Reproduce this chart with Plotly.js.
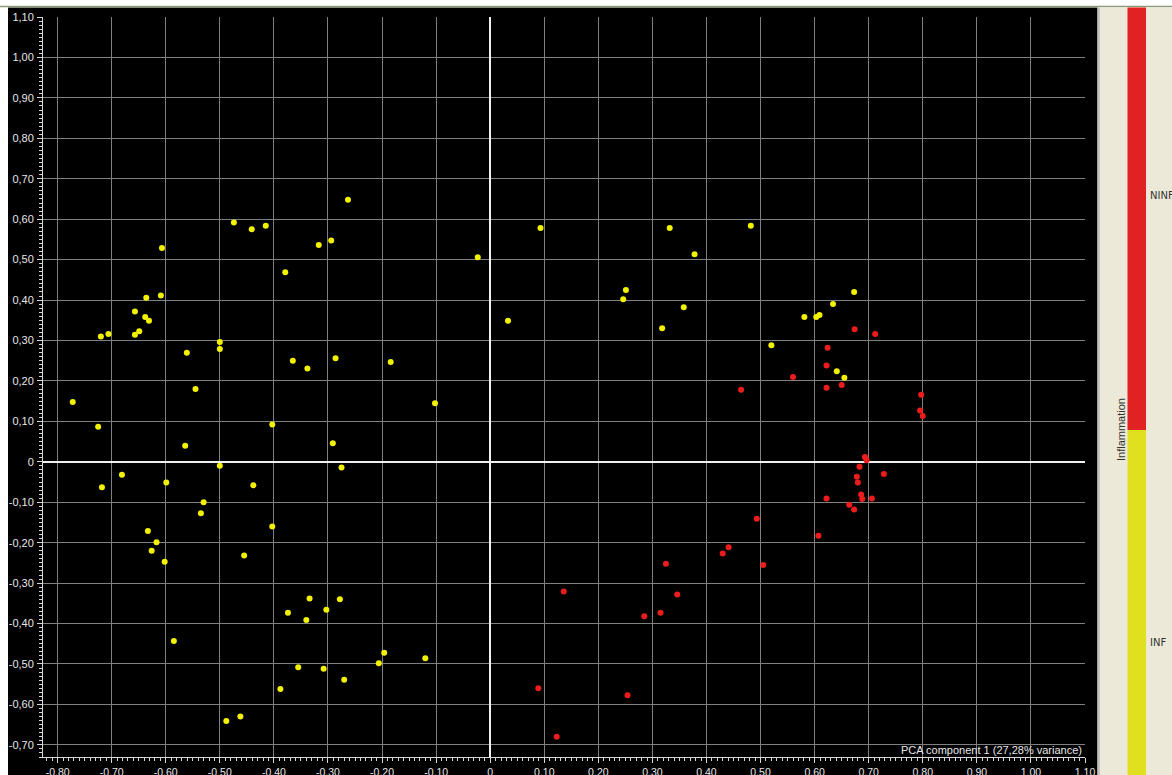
<!DOCTYPE html>
<html>
<head>
<meta charset="utf-8">
<script src="https://cdn.plot.ly/plotly-3.0.1.min.js"></script>
<style>html,body{margin:0;padding:0;background:#fff;}#chart{width:1172px;height:775px;}</style>
</head>
<body>
<div id="chart"></div>
<script>
// INF samples (yellow)
const infX = [-0.263,-0.474,-0.441,-0.415,-0.317,-0.294,-0.607,-0.023,-0.379,-0.636,-0.609,-0.657,-0.638,-0.631,-0.649,-0.657,-0.706,-0.720,-0.500,-0.500,-0.561,-0.365,-0.338,-0.286,-0.184,-0.545,-0.772,-0.102,-0.725,-0.403,-0.564,-0.291,-0.500,-0.275,-0.681,-0.718,-0.599,-0.438,
  -0.530,-0.535,-0.403,-0.633,-0.617,-0.626,-0.602,-0.455,-0.334,-0.278,-0.374,-0.303,-0.340,-0.585,-0.196,-0.206,-0.120,-0.355,-0.308,-0.270,-0.388,-0.462,-0.488,
  0.093,0.332,0.482,0.378,0.251,0.246,0.033,0.358,0.318,0.673,0.634,0.581,0.603,0.609,0.520,0.641,0.655];
const infY = [0.648,0.592,0.575,0.584,0.536,0.547,0.529,0.506,0.469,0.406,0.411,0.372,0.358,0.349,0.323,0.314,0.316,0.310,0.296,0.279,0.270,0.250,0.231,0.256,0.247,0.180,0.148,0.145,0.087,0.092,0.040,0.046,-0.010,-0.014,-0.032,-0.063,-0.051,-0.058,
  -0.100,-0.127,-0.160,-0.171,-0.199,-0.220,-0.247,-0.232,-0.338,-0.340,-0.373,-0.366,-0.391,-0.443,-0.472,-0.498,-0.486,-0.508,-0.512,-0.539,-0.562,-0.630,-0.641,
  0.578,0.578,0.584,0.513,0.425,0.402,0.349,0.382,0.330,0.420,0.390,0.358,0.358,0.363,0.288,0.224,0.208];
// NINF samples (red)
const ninfX = [0.674,0.712,0.624,0.622,0.560,0.622,0.650,0.464,0.797,0.795,0.800,
  0.693,0.696,0.683,0.728,0.678,0.680,0.686,0.688,0.706,0.622,0.664,0.673,0.493,0.607,0.441,0.430,0.325,0.505,0.136,0.346,0.315,0.285,0.089,0.254,0.123];
const ninfY = [0.328,0.316,0.282,0.238,0.210,0.183,0.190,0.178,0.166,0.127,0.113,
  0.012,0.004,-0.012,-0.030,-0.037,-0.051,-0.081,-0.092,-0.091,-0.091,-0.106,-0.118,-0.141,-0.183,-0.211,-0.227,-0.252,-0.255,-0.321,-0.328,-0.373,-0.382,-0.560,-0.577,-0.680];

const xTickVals = [-0.8,-0.7,-0.6,-0.5,-0.4,-0.3,-0.2,-0.1,0,0.1,0.2,0.3,0.4,0.5,0.6,0.7,0.8,0.9,1.0,1.1];
const xTickText = ['-0,80','-0,70','-0,60','-0,50','-0,40','-0,30','-0,20','-0,10','0','0,10','0,20','0,30','0,40','0,50','0,60','0,70','0,80','0,90','1,00','1,10'];
const yTickVals = [-0.7,-0.6,-0.5,-0.4,-0.3,-0.2,-0.1,0,0.1,0.2,0.3,0.4,0.5,0.6,0.7,0.8,0.9,1.0,1.1];
const yTickText = ['-0,70','-0,60','-0,50','-0,40','-0,30','-0,20','-0,10','0','0,10','0,20','0,30','0,40','0,50','0,60','0,70','0,80','0,90','1,00','1,10'];
const groupNames = ['INF','NINF'];
const legendTitle = 'Inflammation';
const xTitle = 'PCA component 1 (27,28% variance)';

const W = 1172, H = 775, L = 43, R = 87, T = 17, B = 18;
const pw = W - L - R, ph = H - T - B;
const px = v => (v - L) / pw;          // pixel x -> paper
const py = v => (H - B - v) / ph;      // pixel y -> paper

const traces = [
  {x: infX, y: infY, type: 'scatter', mode: 'markers', name: groupNames[0],
   marker: {color: '#f2f200', size: 6, line: {width: 0}}},
  {x: ninfX, y: ninfY, type: 'scatter', mode: 'markers', name: groupNames[1],
   marker: {color: '#ee1c1c', size: 6, line: {width: 0}}}
];

const axisCommon = {
  showgrid: true, gridcolor: '#808080', gridwidth: 1,
  zeroline: true, zerolinecolor: '#f0f0f0', zerolinewidth: 1.5,
  showline: true, linecolor: '#d8d8d8', linewidth: 1,
  ticks: 'outside', ticklen: 5, tickcolor: '#d8d8d8', tickwidth: 1,
  tickmode: 'array',
  tickfont: {family: 'Liberation Sans, Arial, sans-serif', size: 11, color: '#e6e6e6'},
  minor: {dtick: 0.01, ticklen: 3, tickcolor: '#d8d8d8', showgrid: false, ticks: 'outside'},
  fixedrange: true
};

const layout = {
  width: W, height: H,
  margin: {l: L, r: R, t: T, b: B, pad: 0},
  paper_bgcolor: '#ffffff', plot_bgcolor: '#000000',
  showlegend: false,
  xaxis: Object.assign({}, axisCommon, {range: [-0.827, 1.10], tickvals: xTickVals, ticktext: xTickText,
    tickfont: {family: 'Liberation Sans, Arial, sans-serif', size: 10.5, color: '#e6e6e6'}}),
  yaxis: Object.assign({}, axisCommon, {range: [-0.73, 1.10], tickvals: yTickVals, ticktext: yTickText, ticklabelstandoff: 1}),
  shapes: [
    {type: 'rect', xref: 'paper', yref: 'paper', x0: px(8), x1: px(1097.5), y0: py(775), y1: py(7.5),
     fillcolor: '#000000', line: {width: 0}, layer: 'below'},
    {type: 'line', xref: 'paper', yref: 'paper', x0: px(0), x1: px(1172), y0: py(6.5), y1: py(6.5),
     line: {color: '#8c9a78', width: 1.5}, layer: 'above'},
    {type: 'rect', xref: 'paper', yref: 'paper', x0: px(1097.5), x1: px(1100), y0: py(775), y1: py(7.5),
     fillcolor: '#c4c4c0', line: {width: 0}, layer: 'above'},
    {type: 'rect', xref: 'paper', yref: 'paper', x0: px(1100), x1: px(1172), y0: py(775), y1: py(7.5),
     fillcolor: '#ece9d8', line: {width: 0}, layer: 'above'},
    {type: 'rect', xref: 'paper', yref: 'paper', x0: px(1127.5), x1: px(1146), y0: py(430), y1: py(7.5),
     fillcolor: '#e02222', line: {width: 0}, layer: 'above'},
    {type: 'rect', xref: 'paper', yref: 'paper', x0: px(1127.5), x1: px(1146), y0: py(775), y1: py(430),
     fillcolor: '#e0e020', line: {width: 0}, layer: 'above'}
  ],
  annotations: [
    {text: xTitle, xref: 'paper', yref: 'paper', x: px(1084), y: py(750), xanchor: 'right', yanchor: 'middle',
     showarrow: false, font: {family: 'Liberation Sans, Arial, sans-serif', size: 11, color: '#e6e6e6'}},
    {text: legendTitle, xref: 'paper', yref: 'paper', x: px(1121), y: py(430), xanchor: 'center', yanchor: 'middle',
     textangle: -90, showarrow: false, font: {family: 'Liberation Sans Narrow, Liberation Sans, Arial, sans-serif', size: 11, color: '#333333'}},
    {text: groupNames[1], xref: 'paper', yref: 'paper', x: px(1147.5), y: py(195), xanchor: 'left', yanchor: 'middle',
     showarrow: false, font: {family: 'DejaVu Sans, sans-serif', size: 10, color: '#333333'}},
    {text: groupNames[0], xref: 'paper', yref: 'paper', x: px(1147.5), y: py(642), xanchor: 'left', yanchor: 'middle',
     showarrow: false, font: {family: 'DejaVu Sans, sans-serif', size: 10, color: '#333333'}}
  ]
};

Plotly.newPlot('chart', traces, layout, {displayModeBar: false, staticPlot: true});
</script>
</body>
</html>
